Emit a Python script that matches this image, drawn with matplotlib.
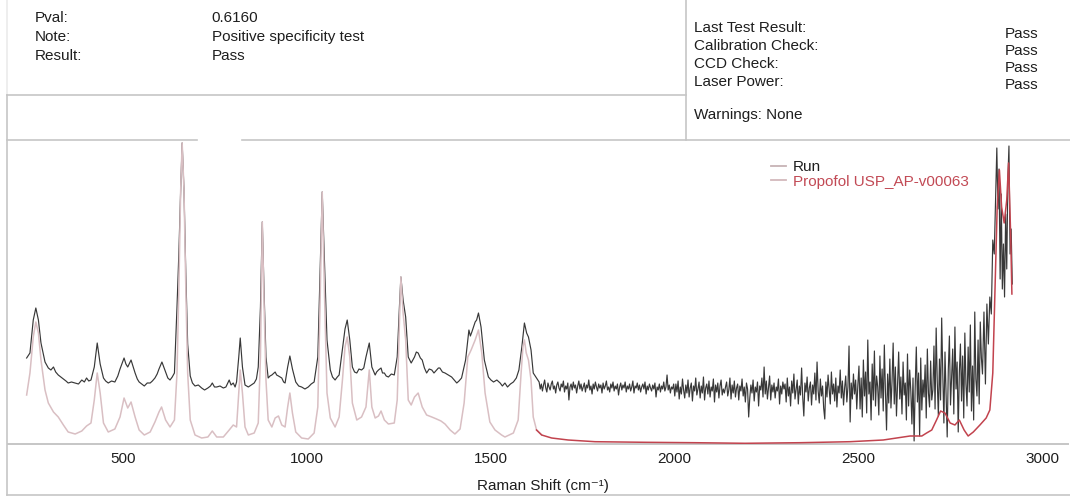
import numpy as np
import matplotlib
matplotlib.use("Agg")
import matplotlib.pyplot as plt
from matplotlib.lines import Line2D

plt.rcParams['font.family'] = ['Liberation Sans', 'DejaVu Sans']

# ---------------------------------------------------------------- report fields
left_labels = ["Pval:", "Note:", "Result:"]
left_values = ["0.6160", "Positive specificity test", "Pass"]
right_labels = ["Last Test Result:", "Calibration Check:", "CCD Check:", "Laser Power:"]
right_values = ["Pass", "Pass", "Pass", "Pass"]
warnings_text = "Warnings: None"

# ---------------------------------------------------------------- spectra
tick_values = [500, 1000, 1500, 2000, 2500, 3000]
series_names = ["Run", "Propofol USP_AP-v00063"]

# Library reference spectrum (Raman shift in cm-1, intensity in arbitrary units)
ref_shift = np.array([
    238, 247, 256, 263, 270, 277, 288, 297, 311, 324,
    338, 351, 370, 388, 401, 413, 422, 430, 438, 447,
    460, 478, 492, 503, 513, 522, 533, 544, 558, 574,
    587, 598, 605, 616, 628, 640, 647, 652, 657, 661,
    666, 671, 676, 683, 696, 714, 731, 743, 755, 773,
    789, 800, 809, 815, 819, 825, 832, 841, 857, 868,
    874, 879, 884, 889, 895, 905, 914, 923, 932, 941,
    948, 954, 961, 970, 986, 1004, 1020, 1030, 1036, 1042,
    1049, 1055, 1064, 1077, 1088, 1097, 1104, 1110, 1117, 1124,
    1136, 1149, 1161, 1170, 1177, 1186, 1195, 1202, 1211, 1222,
    1238, 1246, 1252, 1256, 1262, 1269, 1276, 1284, 1293, 1303,
    1314, 1326, 1340, 1353, 1365, 1376, 1390, 1403, 1417, 1428,
    1438, 1447, 1458, 1467, 1476, 1485, 1498, 1512, 1530, 1539,
    1562, 1575, 1583, 1588, 1592, 1597, 1603, 1610, 1616, 1625,
    1639, 1666, 1711, 1784, 1920, 2056, 2192, 2342, 2478, 2568,
    2641, 2673, 2686, 2700, 2713, 2724, 2736, 2750, 2763, 2775,
    2788, 2799, 2813, 2831, 2848, 2858, 2866, 2872, 2878, 2884,
    2890, 2897, 2904, 2909, 2915, 2918])
ref_intensity = np.array([
    49, 71, 107, 122, 111, 84, 54, 41, 32, 27,
    19, 12, 10, 13, 18, 21, 44, 71, 51, 21,
    12, 15, 27, 46, 36, 42, 27, 14, 9, 12,
    22, 32, 37, 24, 17, 24, 71, 154, 254, 301,
    254, 154, 71, 24, 9, 6, 7, 13, 7, 7,
    14, 19, 17, 51, 74, 51, 17, 9, 11, 21,
    87, 222, 137, 64, 24, 17, 26, 28, 19, 17,
    37, 51, 31, 12, 6, 5, 11, 37, 137, 252,
    137, 51, 26, 17, 27, 64, 97, 107, 87, 41,
    24, 27, 37, 74, 37, 26, 28, 33, 24, 20,
    21, 44, 121, 167, 131, 104, 44, 39, 47, 51,
    37, 29, 27, 25, 23, 20, 14, 10, 15, 41,
    87, 94, 104, 114, 91, 51, 22, 14, 9, 7,
    11, 24, 71, 97, 104, 91, 84, 64, 27, 14,
    9, 6, 4, 2.3, 1.7, 1.3, 0.7, 1.3, 2.3, 4,
    8, 8, 11, 14, 24, 33, 31, 21, 19, 24,
    14, 8, 12, 19, 26, 34, 71, 154, 237, 274,
    237, 221, 244, 281, 204, 150])

# Measured run: fingerprint region
run_fp_shift = np.array([
    238, 247, 256, 263, 270, 277, 288, 297, 304, 311,
    317, 324, 331, 338, 345, 351, 360, 370, 379, 388,
    395, 401, 407, 413, 422, 430, 438, 447, 453, 460,
    469, 478, 486, 492, 503, 508, 513, 522, 527, 533,
    539, 544, 551, 558, 566, 574, 580, 587, 593, 598,
    606, 611, 616, 622, 628, 634, 640, 647, 652, 657,
    661, 666, 671, 676, 683, 689, 696, 705, 714, 722,
    731, 738, 743, 749, 755, 764, 773, 780, 789, 794,
    800, 805, 809, 815, 819, 825, 832, 841, 849, 857,
    863, 868, 874, 879, 884, 889, 895, 900, 905, 914,
    918, 923, 932, 937, 941, 948, 954, 961, 970, 978,
    986, 995, 1004, 1012, 1020, 1030, 1036, 1042, 1049, 1055,
    1064, 1070, 1077, 1083, 1088, 1097, 1104, 1110, 1117, 1124,
    1130, 1136, 1142, 1149, 1155, 1161, 1170, 1177, 1186, 1190,
    1195, 1202, 1206, 1211, 1216, 1222, 1230, 1238, 1246, 1252,
    1256, 1262, 1269, 1276, 1284, 1293, 1298, 1303, 1309, 1314,
    1320, 1326, 1333, 1340, 1346, 1353, 1358, 1362, 1369, 1376,
    1385, 1394, 1401, 1408, 1414, 1421, 1432, 1441, 1445, 1449,
    1458, 1462, 1467, 1474, 1483, 1494, 1501, 1508, 1517, 1526,
    1532, 1539, 1546, 1554, 1562, 1570, 1577, 1585, 1592, 1598,
    1603, 1610, 1616, 1625])
run_fp_intensity = np.array([
    86, 91, 124, 136, 124, 101, 82, 76, 74, 77,
    72, 69, 67, 65, 63, 61, 62, 61, 60, 64,
    62, 66, 63, 64, 77, 101, 80, 66, 63, 61,
    63, 62, 68, 75, 86, 80, 77, 84, 78, 71,
    65, 62, 60, 58, 61, 61, 63, 66, 70, 75,
    82, 77, 72, 66, 64, 67, 71, 137, 190, 254,
    301, 254, 170, 100, 68, 61, 58, 59, 56, 54,
    56, 58, 61, 57, 57, 58, 56, 57, 64, 59,
    61, 57, 62, 87, 106, 77, 59, 57, 59, 61,
    65, 77, 137, 222, 150, 87, 66, 68, 69, 72,
    69, 68, 66, 62, 61, 77, 88, 75, 62, 58,
    57, 55, 57, 60, 62, 87, 171, 252, 171, 104,
    74, 67, 64, 67, 69, 95, 115, 124, 104, 77,
    72, 71, 75, 74, 76, 87, 101, 77, 69, 72,
    74, 76, 71, 71, 68, 67, 70, 69, 87, 137,
    167, 144, 127, 87, 81, 87, 92, 91, 86, 84,
    76, 71, 75, 74, 71, 74, 76, 76, 72, 71,
    69, 67, 64, 61, 63, 66, 84, 114, 108, 112,
    122, 124, 131, 117, 84, 67, 64, 62, 64, 61,
    58, 61, 57, 60, 62, 66, 74, 97, 121, 111,
    107, 94, 71, 66])

# Measured run: noisy band, detector sampled every 3 cm-1 from 1632 to 2835
run_band_shift = np.arange(1632, 2838, 3)
run_band_intensity = np.array([
    # 1632 - 1998
    62, 55, 60, 53, 59, 64, 56, 52, 61, 57,
    54, 60, 63, 55, 58, 51, 59, 62, 56, 53,
    60, 57, 63, 52, 58, 55, 61, 44, 57, 60,
    54, 62, 56, 59, 51, 58, 63, 55, 60, 53,
    57, 61, 52, 59, 56, 64, 54, 58, 50, 60,
    55, 62, 57, 53, 60, 56, 59, 51, 61, 55,
    58, 63, 54, 57, 52, 60, 56, 62, 53, 58,
    55, 60, 49, 57, 61, 54, 59, 56, 62, 52,
    58, 55, 60, 53, 57, 63, 51, 58, 56, 61,
    54, 59, 52, 57, 60, 55, 62, 50, 58, 54,
    60, 56, 53, 59, 55, 61, 47, 57, 54, 60,
    52, 58, 55, 62, 53, 57, 69, 54, 59, 51,
    57, 55, 60,
    # 2001 - 2298
    48, 60, 52, 63, 45, 57, 50, 65, 54, 46,
    59, 51, 64, 47, 56, 61, 43, 58, 53, 66,
    49, 55, 62, 46, 58, 51, 67, 44, 56, 60,
    50, 63, 47, 57, 53, 65, 42, 59, 52, 61,
    46, 58, 64, 49, 55, 51, 57, 62, 48, 54,
    66, 45, 59, 51, 63, 47, 56, 60, 44, 58,
    53, 65, 48, 57, 42, 61, 55, 27, 46, 59,
    51, 64, 43, 57, 52, 62, 38, 58, 54, 66,
    47, 77, 50, 63, 45, 56, 68, 44, 59, 52,
    61, 46, 57, 53, 65, 40, 58, 50, 62, 55,
    # 2301 - 2499
    60, 42, 66, 48, 57, 38, 63, 51, 70, 45,
    55, 64, 40, 58, 49, 76, 47, 28, 61, 52,
    67, 43, 56, 62, 39, 59, 50, 71, 44, 82,
    53, 41, 65, 48, 58, 36, 25, 62, 47, 69,
    54, 40, 72, 50, 60, 43, 66, 37, 58, 51,
    74, 46, 63, 39, 56, 68, 42, 57, 98, 22,
    61, 45, 70, 50, 64, 35, 59,
    # 2502 - 2700
    78, 35, 66, 27, 84, 48, 72, 31, 104, 50,
    62, 24, 80, 44, 93, 38, 68, 57, 29, 88,
    46, 75, 33, 99, 52, 14, 70, 41, 85, 36,
    63, 101, 40, 77, 28, 59, 92, 45, 67, 30,
    82, 49, 61, 24, 90, 38, 74, 53, 20, 66,
    3, 58, 97, 42, 71, 8, 86, 34, 64, 47,
    79, 26, 95, 51, 37, 83, 44,
    # 2703 - 2835
    54, 98, 35, 116, 62, 28, 85, 44, 126, 70,
    21, 92, 50, 7, 74, 108, 39, 66, 95, 30,
    117, 55, 82, 12, 71, 100, 43, 88, 26, 111,
    60, 38, 97, 52, 119, 33, 78, 24, 132, 65,
    48, 104, 40, 122, 86])

# Measured run: C-H stretching band
run_ch_shift = np.array([
    2838, 2842, 2846, 2850, 2854, 2858, 2862, 2866, 2870, 2874,
    2877, 2880, 2883, 2886, 2889, 2892, 2895, 2898, 2901, 2904,
    2907, 2910, 2913, 2916, 2919])
run_ch_intensity = np.array([
    70, 132, 60, 140, 100, 147, 130, 204, 190, 250,
    296, 235, 275, 165, 250, 155, 200, 147, 230, 175,
    265, 298, 190, 215, 160])

run_shift = np.concatenate([run_fp_shift, run_band_shift, run_ch_shift])
run_intensity = np.concatenate([run_fp_intensity, run_band_intensity, run_ch_intensity])

# ---------------------------------------------------------------- figure
W, H = 1070, 496
fig = plt.figure(figsize=(W / 100, H / 100), dpi=100)
fig.patch.set_facecolor('white')


def fx(px):
    return px / W


def fy(py):
    return 1 - py / H


TEXT = '#1e1e1e'
FRAME = '#c6c6c6'

ax = fig.add_axes([fx(8), fy(444), fx(1068) - fx(8), fy(140) - fy(444)])
ax.set_xlim(187.3, 3070.6)
ax.set_ylim(0, 304)
ax.set_facecolor('none')

ax.plot(run_shift, run_intensity, color='#383838', lw=0.85, zorder=2)
pink = ref_shift <= 1639
red = ref_shift >= 1625
ax.plot(ref_shift[pink], ref_intensity[pink], color='#d9bfc3', lw=1.1, zorder=3)
ax.plot(ref_shift[red], ref_intensity[red], color='#c2434e', lw=1.1, zorder=3)

for side in ['top', 'left', 'right']:
    ax.spines[side].set_visible(False)
ax.spines['bottom'].set_color(FRAME)
ax.spines['bottom'].set_linewidth(1.4)
ax.set_yticks([])
ax.set_xticks(tick_values)
ax.set_xticklabels([str(t) for t in tick_values])
ax.tick_params(axis='x', length=0, pad=6, labelsize=11, labelcolor=TEXT)

fig.text(fx(543), fy(490), "Raman Shift (cm\u207b\u00b9)", ha='center', va='baseline',
         fontsize=11, color=TEXT)

handles = [Line2D([], [], color='#c7b3b5', lw=1.3),
           Line2D([], [], color='#d3b9bc', lw=1.3)]
ax.legend(handles, series_names, labelcolor=[TEXT, '#c24a55'],
          loc='upper left', bbox_to_anchor=(fx(771), fy(160)),
          bbox_transform=fig.transFigure, frameon=False, fontsize=11,
          handlelength=1.0, handletextpad=0.45, labelspacing=0.05,
          borderpad=0, borderaxespad=0)


# ---------------------------------------------------------------- frame lines
def hline(y, x0, x1, **kw):
    fig.add_artist(Line2D([fx(x0), fx(x1)], [fy(y), fy(y)],
                          transform=fig.transFigure, color=FRAME, lw=1.2, **kw))


def vline(x, y0, y1, **kw):
    fig.add_artist(Line2D([fx(x), fx(x)], [fy(y0), fy(y1)],
                          transform=fig.transFigure, color=FRAME, lw=1.2, **kw))


hline(95, 7, 686)
hline(140, 7, 197)
hline(140, 242, 1070)
hline(494.5, 7, 1070)
vline(686, 0, 140)
vline(7, 95, 495)
vline(7, 0, 95, alpha=0.35)

# ---------------------------------------------------------------- header text
for i, (lab, val) in enumerate(zip(left_labels, left_values)):
    y = 21.5 + 19.2 * i
    fig.text(fx(34.5), fy(y), lab, fontsize=11, color=TEXT, va='baseline')
    fig.text(fx(211.5), fy(y), val, fontsize=11, color=TEXT, va='baseline')

for i, lab in enumerate(right_labels):
    fig.text(fx(694), fy(31.7 + 18.2 * i), lab, fontsize=11, color=TEXT, va='baseline')
for i, val in enumerate(right_values):
    fig.text(fx(1005), fy(38.3 + 17.0 * i), val, fontsize=11, color=TEXT, va='baseline')
fig.text(fx(694), fy(119), warnings_text, fontsize=11, color=TEXT, va='baseline')

fig.savefig('out.png', dpi=100, facecolor='white')
